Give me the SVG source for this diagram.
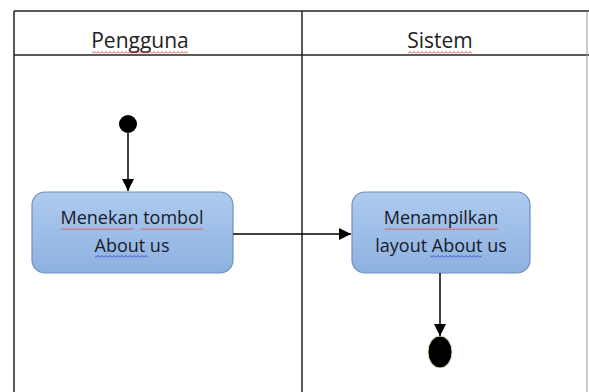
<svg xmlns="http://www.w3.org/2000/svg" width="589" height="392" viewBox="0 0 589 392">
<defs>
<style>
.frame{stroke:#222;stroke-width:1.5;fill:none}
.hdr{font-family:"Open Sans","Liberation Sans",sans-serif;font-size:21px;fill:#222;text-anchor:middle}
.lbl{font-family:"Open Sans","Liberation Sans",sans-serif;font-size:18px;fill:#1a1a2a;text-anchor:middle}
.box{fill:url(#g);stroke:#6f8fbf;stroke-width:1.2}
.edge{stroke:#000;stroke-width:1.5;fill:none;marker-end:url(#ah)}
.wr{fill:url(#wr)}
.wb{fill:url(#wb)}
</style>
<linearGradient id="g" x1="0" y1="0" x2="0" y2="1">
<stop offset="0" stop-color="#aecbef"/>
<stop offset="1" stop-color="#8db1e0"/>
</linearGradient>
<pattern id="wr" width="4" height="3" patternUnits="userSpaceOnUse">
<path d="M0,2.5 L2,0.5 L4,2.5" stroke="#d83a3a" stroke-width="0.9" fill="none"/>
</pattern>
<pattern id="wb" width="4" height="3" patternUnits="userSpaceOnUse">
<path d="M0,2.5 L2,0.5 L4,2.5" stroke="#2a3fd0" stroke-width="0.9" fill="none"/>
</pattern>
<marker id="ah" viewBox="0 0 12 12" refX="12" refY="6" markerWidth="12" markerHeight="12" markerUnits="userSpaceOnUse" orient="auto">
<path d="M0,0 L12,6 L0,12 z" fill="#000"/>
</marker>
</defs>
<g id="lanes">
<line class="frame" x1="14" y1="11" x2="589" y2="11"/>
<line class="frame" x1="14" y1="55" x2="589" y2="55"/>
<line class="frame" x1="14" y1="11" x2="14" y2="392"/>
<line class="frame" x1="302" y1="11" x2="302" y2="392"/>
<line x1="587" y1="11" x2="587" y2="392" stroke="#999" stroke-width="1"/>
<text class="hdr" x="140" y="48">Pengguna</text>
<text class="hdr" x="440" y="48">Sistem</text>
<rect class="wr" x="92" y="51" width="96" height="3"/>
<rect class="wr" x="408" y="51" width="64" height="3"/>
</g>
<g id="start"><circle cx="128" cy="124" r="9" fill="#000"/></g>
<g id="node1">
<rect class="box" x="32" y="192" width="201" height="81" rx="13"/>
<text class="lbl" x="132" y="224">Menekan tombol</text>
<text class="lbl" x="132" y="252">About us</text>
<rect class="wr" x="61" y="227" width="73" height="3"/>
<rect class="wr" x="141" y="227" width="62" height="3"/>
<rect class="wb" x="95" y="255" width="53" height="3"/>
</g>
<g id="node2">
<rect class="box" x="352" y="192" width="178" height="81" rx="13"/>
<text class="lbl" x="441" y="224">Menampilkan</text>
<text class="lbl" x="441" y="252">layout About us</text>
<rect class="wr" x="385" y="227" width="113" height="3"/>
<rect class="wb" x="430" y="255" width="52" height="3"/>
</g>
<g id="end"><ellipse cx="440" cy="352" rx="12" ry="16" fill="#000" stroke="#cfd8b0" stroke-width="1"/></g>
<g id="connectors">
<line class="edge" x1="128" y1="133" x2="128" y2="191"/>
<line class="edge" x1="233" y1="234" x2="351" y2="234"/>
<line class="edge" x1="440" y1="273" x2="440" y2="336"/>
</g>
</svg>
